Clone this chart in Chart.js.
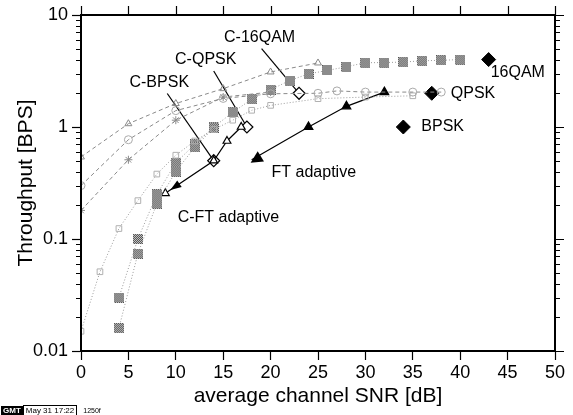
<!DOCTYPE html>
<html>
<head>
<meta charset="utf-8">
<script src="https://cdn.jsdelivr.net/npm/chart.js@4"></script>
<style>
  html, body { margin: 0; padding: 0; background: #fff; }
  #wrap { position: relative; width: 573px; height: 415px; }
  #stamp { position: absolute; left: 1px; top: 405px; font: bold 8px "Liberation Sans", Arial, sans-serif; display: flex; align-items: center; }
  #stamp .g { background: #000; color: #fff; padding: 0 2px; }
  #stamp .d { border: 1px solid #000; padding: 0 2px; font-weight: normal; }
  #stamp .n { margin-left: 6px; font-weight: normal; font-size: 7px; }
</style>
</head>
<body>
<div id="wrap">
  <canvas id="chart" width="573" height="415"></canvas>
  <div id="stamp"><span class="g">GMT</span><span class="d">May 31 17:22</span><span class="n">1250f</span></div>
</div>
<script>
// tick labels
const xTicks = [0, 5, 10, 15, 20, 25, 30, 35, 40, 45, 50];
const yTicks = [0.01, 0.1, 1, 10];

// curves starting at 0 dB (dashed)
const snrTri = [0, 5, 10, 15, 20, 25];
const thrTri = [0.54, 1.07, 1.62, 2.2, 3.1, 3.73];
const snrCirc = [0, 5, 10, 15, 20, 25, 27, 30, 35, 38];
const thrCirc = [0.3, 0.77, 1.4, 1.8, 1.98, 2.0, 2.1, 2.05, 2.05, 2.05];
const snrStar = [0, 5, 10, 15, 20];
const thrStar = [0.18, 0.51, 1.15, 1.85, 2.05];

// dotted open squares
const snrSq = [0, 2, 4, 6, 8, 10, 12, 14, 16, 18, 20, 25, 30, 35];
const thrSq = [0.015, 0.051, 0.124, 0.22, 0.38, 0.56, 0.75, 0.95, 1.15, 1.41, 1.56, 1.79, 1.85, 1.9];

// halftone curves
const snrH1 = [4, 6, 8, 10, 12, 14, 16, 18, 20, 22, 24, 26, 28, 30, 32, 34, 36, 38, 40];
const thrH1 = [0.03, 0.1, 0.25, 0.48, 0.7, 1.0, 1.35, 1.77, 2.15, 2.6, 2.98, 3.2, 3.45, 3.75, 3.76, 3.8, 3.9, 3.94, 4.0];
const snrH2 = [4, 6, 8, 10, 12, 14];
const thrH2 = [0.016, 0.074, 0.207, 0.4, 0.66, 0.98];

// adaptive schemes
const snrFT = [18, 24, 28, 32];
const thrFT = [0.51, 1.0, 1.53, 2.05];
const snrCFT = [8.9, 14, 15.4, 16.9];
const thrCFT = [0.256, 0.5, 0.75, 1.0];

// reference points
const refNames = ['BPSK', 'QPSK', '16QAM'];
const refSnr = [34, 37, 43];
const refThr = [1, 2, 4];
const codedNames = ['C-BPSK', 'C-QPSK', 'C-16QAM'];
const codedSnr = [14, 17.5, 23];
const codedThr = [0.5, 1.0, 2.0];
const codedLabelSnr = [9.1, 14.0, 19.05];
const codedLabelThr = [1.99, 3.16, 5.0];

const FONT = '"Liberation Sans", Arial, Helvetica, sans-serif';

function xy(xs, ys) { return xs.map((x, i) => ({x: x, y: ys[i]})); }

function halftone(n) {
  const c = document.createElement('canvas');
  c.width = n; c.height = n;
  const g = c.getContext('2d');
  for (let i = 0; i < n; i++) {
    for (let j = 0; j < n; j++) {
      g.fillStyle = (i + j) % 2 === 0 ? '#505050' : '#c8c8c8';
      g.fillRect(i, j, 1, 1);
    }
  }
  return c;
}
const htMark = halftone(10);

const grey = '#8a8a8a';

const datasets = [
  { data: xy(snrTri, thrTri), borderColor: grey, borderWidth: 1, borderDash: [4, 3],
    pointStyle: 'triangle', pointRadius: 4, pointBorderColor: grey, pointBackgroundColor: 'rgba(0,0,0,0)' },
  { data: xy(snrCirc, thrCirc), borderColor: grey, borderWidth: 1, borderDash: [4, 3],
    pointStyle: 'circle', pointRadius: 4, pointBorderColor: '#aaa', pointBackgroundColor: 'rgba(0,0,0,0)' },
  { data: xy(snrStar, thrStar), borderColor: grey, borderWidth: 1, borderDash: [4, 3],
    pointStyle: 'star', pointRadius: 4, pointBorderColor: grey, pointBackgroundColor: 'rgba(0,0,0,0)' },
  { data: xy(snrSq, thrSq), borderColor: '#9a9a9a', borderWidth: 1, borderDash: [1, 2],
    pointStyle: 'rect', pointRadius: 4, pointBorderColor: '#b0b0b0', pointBackgroundColor: 'rgba(0,0,0,0)' },
  { data: xy(snrH2, thrH2), borderColor: '#9a9a9a', borderWidth: 1, borderDash: [1, 2],
    pointStyle: htMark, pointRadius: 5 },
  { data: xy(snrH1, thrH1), borderColor: '#9a9a9a', borderWidth: 1, borderDash: [1, 2],
    pointStyle: htMark, pointRadius: 5 },
  { data: xy(snrCFT, thrCFT), borderColor: '#000', borderWidth: 1.2, arrowStart: 'line',
    pointStyle: 'triangle', pointRadius: 4.5, pointBorderColor: '#000', pointBorderWidth: 1.2, pointBackgroundColor: '#fff' },
  { data: xy(snrFT, thrFT), borderColor: '#000', borderWidth: 1.2, arrowStart: 'mark',
    pointStyle: 'triangle', pointRadius: [0, 5, 5, 5], pointBorderColor: '#000', pointBackgroundColor: '#000' },
  { data: xy(codedSnr, codedThr), showLine: false,
    pointStyle: 'rectRot', pointRadius: 6, pointBorderColor: '#000', pointBorderWidth: 1.2, pointBackgroundColor: '#fff' },
  { data: xy(refSnr, refThr), showLine: false,
    pointStyle: 'rectRot', pointRadius: 7, pointBorderColor: '#000', pointBackgroundColor: '#000' }
];

// pointer lines from the coded labels to their diamonds
codedSnr.forEach((s, i) => {
  datasets.push({ data: [{x: codedLabelSnr[i], y: codedLabelThr[i]}, {x: s, y: codedThr[i]}],
    borderColor: '#000', borderWidth: 1.2, pointRadius: 0 });
});

function arrowHead(ctx, tip, from, len, half, fill) {
  const a = Math.atan2(tip.y - from.y, tip.x - from.x);
  ctx.save();
  ctx.translate(tip.x, tip.y);
  ctx.rotate(a);
  ctx.beginPath();
  ctx.moveTo(0, 0);
  ctx.lineTo(-len, -half);
  ctx.lineTo(-len, half);
  ctx.closePath();
  ctx.fillStyle = fill;
  ctx.fill();
  ctx.restore();
}

const decor = {
  id: 'decor',
  afterDatasetsDraw(chart) {
    const ctx = chart.ctx;
    const xs = chart.scales.x, ys = chart.scales.y;
    chart.data.datasets.forEach((ds, i) => {
      if (!ds.arrowStart) return;
      const pts = chart.getDatasetMeta(i).data;
      if (ds.arrowStart === 'line') {
        const p0 = pts[0], p1 = pts[1];
        const d = Math.hypot(p0.x - p1.x, p0.y - p1.y);
        const off = 6 / d;
        const tip = {x: p0.x + (p1.x - p0.x) * off, y: p0.y + (p1.y - p0.y) * off};
        arrowHead(ctx, tip, p1, 11, 4, '#000');
      } else {
        arrowHead(ctx, {x: pts[0].x - 1, y: pts[0].y + 3}, pts[1], 12, 6, '#000');
      }
    });

    ctx.save();
    ctx.fillStyle = '#000';
    ctx.font = '16px ' + FONT;
    ctx.textBaseline = 'middle';
    ctx.textAlign = 'center';
    const labDx = [-8, -8, -2];
    codedNames.forEach((n, i) => {
      ctx.fillText(n, xs.getPixelForValue(codedLabelSnr[i]) + labDx[i], ys.getPixelForValue(codedLabelThr[i]) - 11);
    });
    ctx.textAlign = 'left';
    const refOff = [[18, 0], [19, 0], [2, 13]];
    refNames.forEach((n, i) => {
      ctx.fillText(n, xs.getPixelForValue(refSnr[i]) + refOff[i][0], ys.getPixelForValue(refThr[i]) + refOff[i][1]);
    });
    ctx.fillText('FT adaptive', xs.getPixelForValue(20.1), ys.getPixelForValue(0.39));
    ctx.fillText('C-FT adaptive', xs.getPixelForValue(10.2), ys.getPixelForValue(0.155));
    ctx.restore();
  },
  afterDraw(chart) {
    const ctx = chart.ctx;
    const a = chart.chartArea;
    const xs = chart.scales.x, ys = chart.scales.y;
    ctx.save();
    ctx.strokeStyle = '#000';
    ctx.lineWidth = 1.2;
    ctx.beginPath();
    // minor log ticks, left and right
    for (let e = -2; e < 1; e++) {
      for (let m = 2; m <= 9; m++) {
        const y = Math.round(ys.getPixelForValue(m * Math.pow(10, e))) + 0.5;
        ctx.moveTo(a.left - 5, y); ctx.lineTo(a.left, y);
        ctx.moveTo(a.right, y); ctx.lineTo(a.right + 5, y);
      }
    }
    yTicks.forEach(v => {
      const y = Math.round(ys.getPixelForValue(v)) + 0.5;
      ctx.moveTo(a.right, y); ctx.lineTo(a.right + 9, y);
    });
    xTicks.forEach(v => {
      const x = Math.round(xs.getPixelForValue(v)) + 0.5;
      ctx.moveTo(x, a.top); ctx.lineTo(x, a.top - 9);
    });
    ctx.stroke();
    ctx.lineWidth = 2;
    ctx.strokeRect(a.left, a.top, a.right - a.left, a.bottom - a.top);
    ctx.restore();
  }
};

new Chart(document.getElementById('chart'), {
  type: 'line',
  data: { datasets: datasets },
  plugins: [decor],
  options: {
    responsive: false,
    animation: false,
    events: [],
    layout: { padding: { top: 15, right: 18, left: 0, bottom: 0 } },
    plugins: { legend: { display: false }, tooltip: { enabled: false } },
    elements: { line: { tension: 0 } },
    scales: {
      x: {
        type: 'linear', min: 0, max: 50,
        afterFit: s => { s.height = 64; },
        afterBuildTicks: s => { s.ticks = xTicks.map(v => ({value: v})); },
        grid: { drawOnChartArea: false, tickLength: 9, tickColor: '#000', tickWidth: 1.2 },
        border: { display: true, color: '#000', width: 2 },
        ticks: { color: '#000', font: { family: FONT, size: 18 }, padding: 2, maxRotation: 0 },
        title: { display: true, text: 'average channel SNR [dB]', color: '#000',
                 font: { family: FONT, size: 21 }, padding: { top: 0, bottom: 6 } }
      },
      y: {
        type: 'logarithmic', min: 0.01, max: 10,
        afterFit: s => { s.width = 81; },
        afterBuildTicks: s => { s.ticks = yTicks.map(v => ({value: v})); },
        grid: { drawOnChartArea: false, tickLength: 9, tickColor: '#000', tickWidth: 1.2 },
        border: { display: true, color: '#000', width: 2 },
        ticks: { color: '#000', font: { family: FONT, size: 18 }, padding: 4,
                 callback: v => String(v) },
        title: { display: true, text: 'Throughput [BPS]', color: '#000',
                 font: { family: FONT, size: 21 }, padding: { top: 14, bottom: 0 } }
      }
    }
  }
});
</script>
</body>
</html>
